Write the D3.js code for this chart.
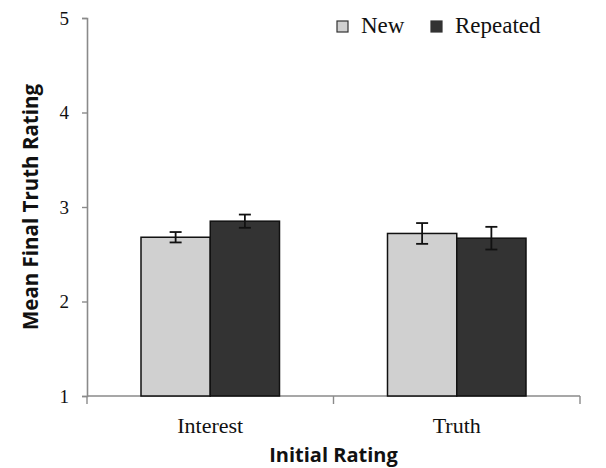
<!DOCTYPE html>
<html>
<head>
<meta charset="utf-8">
<script src="https://cdn.jsdelivr.net/npm/d3@7"></script>
<style>
  body { margin: 0; background: #fff; }
  svg { display: block; }
</style>
</head>
<body>
<div id="graphicContainer"></div>
<script>

// data
const groups = ["Interest", "Truth"]
const series = ["New", "Repeated"]
const means = {
  "Interest": [2.68, 2.85],
  "Truth": [2.72, 2.67]
}
const errors = {
  "Interest": [0.055, 0.07],
  "Truth": [0.11, 0.12]
}
const yTicks = [1, 2, 3, 4, 5]
const colours = ["#d0d0d0", "#333333"]

const svgWidth = 606
const svgHeight = 468
const margin = { top: 18, right: 26, bottom: 72, left: 87 }

const svg = d3.select("#graphicContainer")
  .append("svg")
  .attr("width", svgWidth)
  .attr("height", svgHeight)

const features = svg.append("g")
  .attr("transform", `translate(${margin.left},${margin.top})`)

const featuresWidth = svgWidth - margin.left - margin.right
const featuresHeight = svgHeight - margin.top - margin.bottom

const x0 = d3.scaleBand()
  .domain(groups)
  .range([0, featuresWidth])
  .paddingInner(0)
  .paddingOuter(0)

const x1 = d3.scaleBand()
  .domain(series)
  .range([54, x0.bandwidth() - 54])

const y = d3.scaleLinear()
  .domain([1, 5])
  .range([featuresHeight, 0])

// y axis
const yAxis = features.append("g")
  .call(d3.axisLeft(y).tickValues(yTicks).tickFormat(d3.format("d")).tickSize(5).tickSizeOuter(5).tickPadding(13))
yAxis.select(".domain").attr("stroke", "#8a8a8a").attr("stroke-width", 1.6)
yAxis.selectAll(".tick line").attr("stroke", "#8a8a8a").attr("stroke-width", 1.4)
yAxis.selectAll(".tick text")
  .attr("font-family", "Liberation Serif, serif")
  .attr("font-size", 19)
  .attr("fill", "#111")

// x axis
const xAxis = features.append("g")
  .attr("transform", `translate(0,${featuresHeight})`)
  .call(d3.axisBottom(x0).tickSize(0).tickPadding(21))
xAxis.select(".domain").remove()
xAxis.selectAll(".tick text")
  .attr("font-family", "Liberation Serif, serif")
  .attr("font-size", 22)
  .attr("fill", "#111")

features.append("line")
  .attr("x1", 0).attr("x2", featuresWidth)
  .attr("y1", featuresHeight).attr("y2", featuresHeight)
  .attr("stroke", "#8a8a8a").attr("stroke-width", 1.6)

features.selectAll(".xtick")
  .data([0, ...groups.map(g => x0(g) + x0.bandwidth())])
  .enter()
  .append("line")
  .attr("x1", d => d).attr("x2", d => d)
  .attr("y1", featuresHeight).attr("y2", featuresHeight + 8)
  .attr("stroke", "#8a8a8a").attr("stroke-width", 1.4)

// bars
const barData = []
groups.forEach(g => {
  series.forEach((s, i) => {
    barData.push({ group: g, series: s, i: i, value: means[g][i], err: errors[g][i] })
  })
})

features.selectAll(".bar")
  .data(barData)
  .enter()
  .append("rect")
  .attr("class", "bar")
  .attr("x", d => x0(d.group) + x1(d.series))
  .attr("width", x1.bandwidth())
  .attr("y", d => y(d.value))
  .attr("height", d => y(1) - y(d.value))
  .attr("fill", d => colours[d.i])
  .attr("stroke", "#111")
  .attr("stroke-width", 1.5)

// error bars
const cap = 6
const errG = features.selectAll(".err")
  .data(barData)
  .enter()
  .append("g")
  .attr("stroke", "#111")
  .attr("stroke-width", 1.8)

errG.append("line")
  .attr("x1", d => x0(d.group) + x1(d.series) + x1.bandwidth() / 2)
  .attr("x2", d => x0(d.group) + x1(d.series) + x1.bandwidth() / 2)
  .attr("y1", d => y(d.value + d.err))
  .attr("y2", d => y(d.value - d.err))

errG.selectAll(".cap")
  .data(d => [d.value + d.err, d.value - d.err].map(v => ({ v: v, cx: x0(d.group) + x1(d.series) + x1.bandwidth() / 2 })))
  .enter()
  .append("line")
  .attr("x1", d => d.cx - cap)
  .attr("x2", d => d.cx + cap)
  .attr("y1", d => y(d.v))
  .attr("y2", d => y(d.v))

// axis titles
svg.append("text")
  .attr("transform", `translate(38,${margin.top + featuresHeight / 2}) rotate(-90)`)
  .attr("text-anchor", "middle")
  .attr("font-family", "Open Sans, sans-serif")
  .attr("font-weight", "bold")
  .attr("font-size", 20.5)
  .attr("fill", "#111")
  .text("Mean Final Truth Rating")

svg.append("text")
  .attr("x", margin.left + featuresWidth / 2)
  .attr("y", 462)
  .attr("text-anchor", "middle")
  .attr("font-family", "Open Sans, sans-serif")
  .attr("font-weight", "bold")
  .attr("font-size", 20)
  .attr("fill", "#111")
  .text("Initial Rating")

// legend
const legendX = [337, 431]
const legend = svg.selectAll(".legend")
  .data(series)
  .enter()
  .append("g")
  .attr("transform", (d, i) => `translate(${legendX[i]},21)`)

legend.append("rect")
  .attr("width", 11).attr("height", 11)
  .attr("fill", (d, i) => colours[i])
  .attr("stroke", "#333")
  .attr("stroke-width", 1.2)

legend.append("text")
  .attr("x", 24)
  .attr("y", 12)
  .attr("font-family", "Liberation Serif, serif")
  .attr("font-size", 23)
  .attr("fill", "#111")
  .text(d => d)

</script>
</body>
</html>
